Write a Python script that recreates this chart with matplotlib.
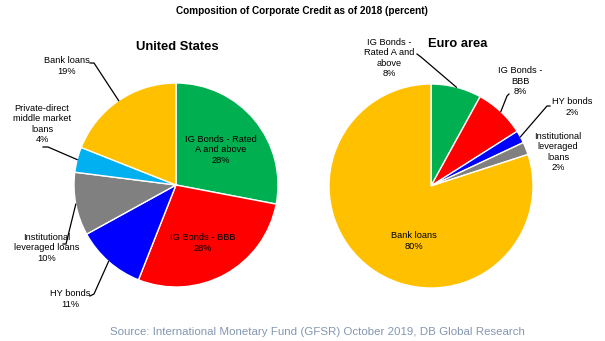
import matplotlib
matplotlib.use("Agg")
import matplotlib.pyplot as plt
import numpy as np

plt.rcParams['font.family'] = ['Liberation Sans', 'DejaVu Sans']

# Composition of corporate credit, 2018 (percent)
us_categories = ["IG Bonds - Rated\nA and above", "IG Bonds - BBB", "HY bonds",
                 "Institutional\nleveraged loans", "Private-direct\nmiddle market\nloans",
                 "Bank loans"]
us_values = [28, 28, 11, 10, 4, 19]

eu_categories = ["IG Bonds -\nRated A and\nabove", "IG Bonds -\nBBB", "HY bonds",
                 "Institutional\nleveraged\nloans", "Bank loans"]
eu_values = [8, 8, 2, 2, 80]

us_colors = ["#00B050", "#FF0000", "#0000FF", "#808080", "#00B0F0", "#FFC000"]
eu_colors = ["#00B050", "#FF0000", "#0000FF", "#808080", "#FFC000"]

W, H = 605, 341
fig = plt.figure(figsize=(W / 100, H / 100), dpi=100)
ax = fig.add_axes([0, 0, 1, 1])


def py(y):
    """Convert a top-down pixel row into the axes' y coordinate."""
    return H - y


R = 102
us_center = (176, py(185))
eu_center = (431, py(186))

wedge_style = dict(edgecolor="white", linewidth=1.0)
ax.pie(us_values, colors=us_colors, startangle=90, counterclock=False,
       center=us_center, radius=R, wedgeprops=wedge_style, frame=True)
ax.pie(eu_values, colors=eu_colors, startangle=90, counterclock=False,
       center=eu_center, radius=R, wedgeprops=wedge_style, frame=True)

ax.set_xlim(0, W)
ax.set_ylim(0, H)
ax.set_aspect("equal")
ax.axis("off")


def mid_point(values, idx, center, r=R):
    """Point on the rim at the middle angle of wedge idx."""
    total = float(sum(values))
    before = sum(values[:idx])
    frac = (before + values[idx] / 2.0) / total
    ang = np.deg2rad(90 - 360 * frac)
    return center[0] + r * np.cos(ang), center[1] + r * np.sin(ang)


def label(cat, val):
    return f"{cat}\n{val}%"


fs = 6.7
ls = 1.18
# United States: labels inside the two big wedges
ax.text(221, py(150), label(us_categories[0], us_values[0]), ha="center", va="center",
        fontsize=fs, linespacing=ls)
ax.text(203, py(243), label(us_categories[1], us_values[1]), ha="center", va="center",
        fontsize=fs, linespacing=ls)

# United States: outside labels with leader lines
# (index, text centre, leader start, hook end)
us_outside = [
    (5, (67, 66), (90, 63), (94, 63)),
    (4, (42, 124), (43, 147), (48, 147)),
    (3, (47, 248), (63, 244), (66, 244)),
    (2, (70, 299), (90, 296), (94, 294)),
]
for idx, tc, p0, p1 in us_outside:
    ax.text(tc[0], py(tc[1]), label(us_categories[idx], us_values[idx]),
            ha="center", va="center", fontsize=fs, linespacing=ls)
    mx, my = mid_point(us_values, idx, us_center)
    ax.plot([p0[0], p1[0], mx], [py(p0[1]), py(p1[1]), my], color="black", lw=0.9)

# Euro area labels
eu_outside = [
    (0, (389, 58), (417, 54), (421, 57)),
    (1, (520, 81), (509, 94), (507, 96)),
    (2, (572, 107), (550, 106), (547, 106)),
]
for idx, tc, p0, p1 in eu_outside:
    ax.text(tc[0], py(tc[1]), label(eu_categories[idx], eu_values[idx]),
            ha="center", va="center", fontsize=fs, linespacing=ls)
    mx, my = mid_point(eu_values, idx, eu_center)
    ax.plot([p0[0], p1[0], mx], [py(p0[1]), py(p1[1]), my], color="black", lw=0.9)

ax.text(558, py(152), label(eu_categories[3], eu_values[3]), ha="center", va="center",
        fontsize=fs, linespacing=ls)
ax.text(414, py(241), label(eu_categories[4], eu_values[4]), ha="center", va="center",
        fontsize=fs, linespacing=ls)

# Titles and source
ax.text(302, py(11), "Composition of Corporate Credit as of 2018 (percent)",
        ha="center", va="center", fontsize=7.2, fontweight="bold")
ax.text(177, py(47), "United States", ha="center", va="center",
        fontsize=9.4, fontweight="bold")
ax.text(458, py(44), "Euro area", ha="center", va="center",
        fontsize=9.3, fontweight="bold")
ax.text(317, py(332),
        "Source: International Monetary Fund (GFSR) October 2019, DB Global Research",
        ha="center", va="center", fontsize=8.25, color="#8497B0")

fig.savefig("out.png", dpi=100)
